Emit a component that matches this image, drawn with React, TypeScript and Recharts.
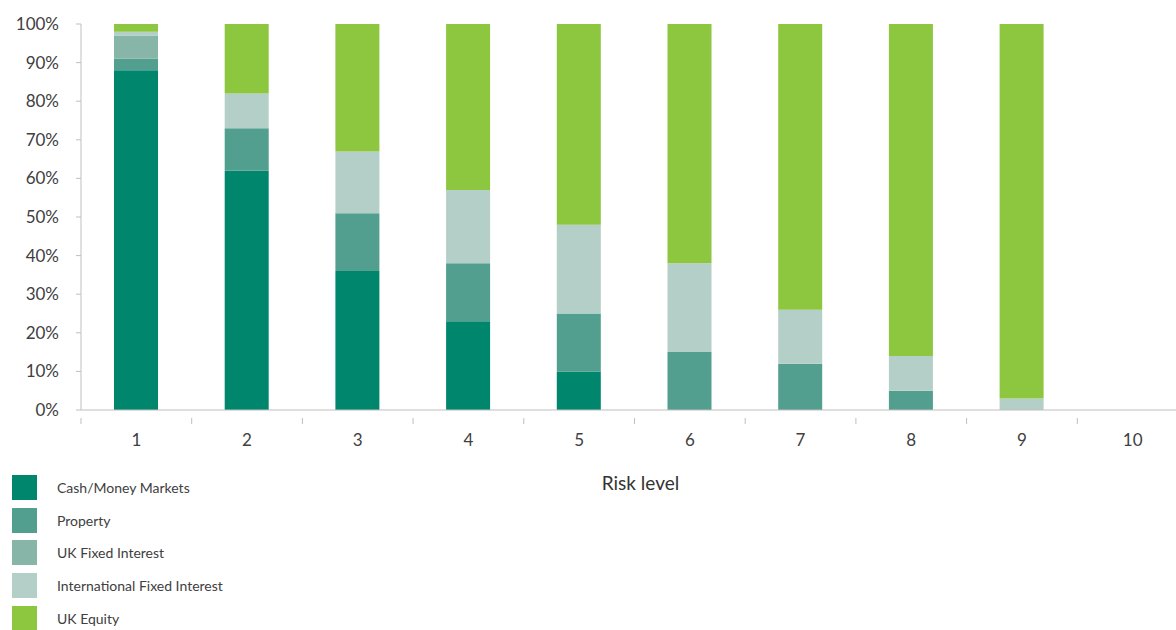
import React from 'react';
import { BarChart, Bar, XAxis, YAxis } from 'recharts';

const riskLevels = ['1', '2', '3', '4', '5', '6', '7', '8', '9', '10'];
const cashMoneyMarkets = [88, 62, 36, 23, 10, 0, 0, 0, 0, 0];
const property = [3, 11, 15, 15, 15, 15, 12, 5, 0, 0];
const ukFixedInterest = [6, 0, 0, 0, 0, 0, 0, 0, 0, 0];
const intlFixedInterest = [1, 9, 16, 19, 23, 23, 14, 9, 3, 0];
const ukEquity = [2, 18, 33, 43, 52, 62, 74, 86, 97, 0];
const yTicks = [0, 10, 20, 30, 40, 50, 60, 70, 80, 90, 100];

const SERIES = [
  { key: 'cash', name: 'Cash/Money Markets', color: '#00866D' },
  { key: 'property', name: 'Property', color: '#529F8F' },
  { key: 'ukFixed', name: 'UK Fixed Interest', color: '#87B5A8' },
  { key: 'intlFixed', name: 'International Fixed Interest', color: '#B4CFC8' },
  { key: 'ukEquity', name: 'UK Equity', color: '#8DC63F' },
];

const data = riskLevels.map((level, i) => ({
  level,
  cash: cashMoneyMarkets[i],
  property: property[i],
  ukFixed: ukFixedInterest[i],
  intlFixed: intlFixedInterest[i],
  ukEquity: ukEquity[i],
}));

const CHART_W = 1192;
const CHART_H = 630;
const Y_AXIS_W = 81;
const RIGHT = 4;
const BAND = (CHART_W - Y_AXIS_W - RIGHT) / riskLevels.length;
const FONT = 'Lato, "Open Sans", sans-serif';

const XTick = (props: any) => {
  const { x, y, payload } = props;
  return (
    <g>
      <line x1={x - BAND / 2} x2={x - BAND / 2} y1={y} y2={y + 6} stroke="#bfbfbf" />
      <text x={x} y={y + 28} textAnchor="middle" fill="#404040" fontSize={17} fontFamily={FONT}>
        {payload.value}
      </text>
    </g>
  );
};

const App: React.FC = () => {
  return (
    <div style={{ position: 'absolute', left: 0, top: 0, width: 1176, height: 630, overflow: 'hidden', background: '#fff' }}>
      <BarChart
        width={CHART_W}
        height={CHART_H}
        data={data}
        margin={{ top: 24, right: RIGHT, left: 0, bottom: 0 }}
      >
        <XAxis
          dataKey="level"
          height={220}
          tickLine={false}
          axisLine={{ stroke: '#bfbfbf' }}
          tick={<XTick />}
          interval={0}
          label={{ value: 'Risk level', position: 'insideTop', offset: 67, dx: 6, fill: '#333', fontSize: 19, fontFamily: FONT }}
        />
        <YAxis
          width={Y_AXIS_W}
          domain={[0, 100]}
          ticks={yTicks}
          tickFormatter={(v: number) => `${v}%`}
          tickSize={5}
          tickMargin={17}
          tickLine={{ stroke: '#bfbfbf' }}
          axisLine={{ stroke: '#bfbfbf' }}
          tick={{ fill: '#404040', fontSize: 17, fontFamily: FONT }}
          interval={0}
        />
        {SERIES.map((s) => (
          <Bar key={s.key} dataKey={s.key} name={s.name} stackId="a" fill={s.color} barSize={44} isAnimationActive={false} />
        ))}
      </BarChart>
      <div style={{ position: 'absolute', left: 12, top: 471, fontFamily: FONT, fontSize: 14, color: '#404040' }}>
        {SERIES.map((s) => (
          <div key={s.key} style={{ display: 'flex', alignItems: 'center', height: 32.8 }}>
            <div style={{ width: 25, height: 25, background: s.color, marginRight: 20 }} />
            <span>{s.name}</span>
          </div>
        ))}
      </div>
    </div>
  );
};

export default App;
